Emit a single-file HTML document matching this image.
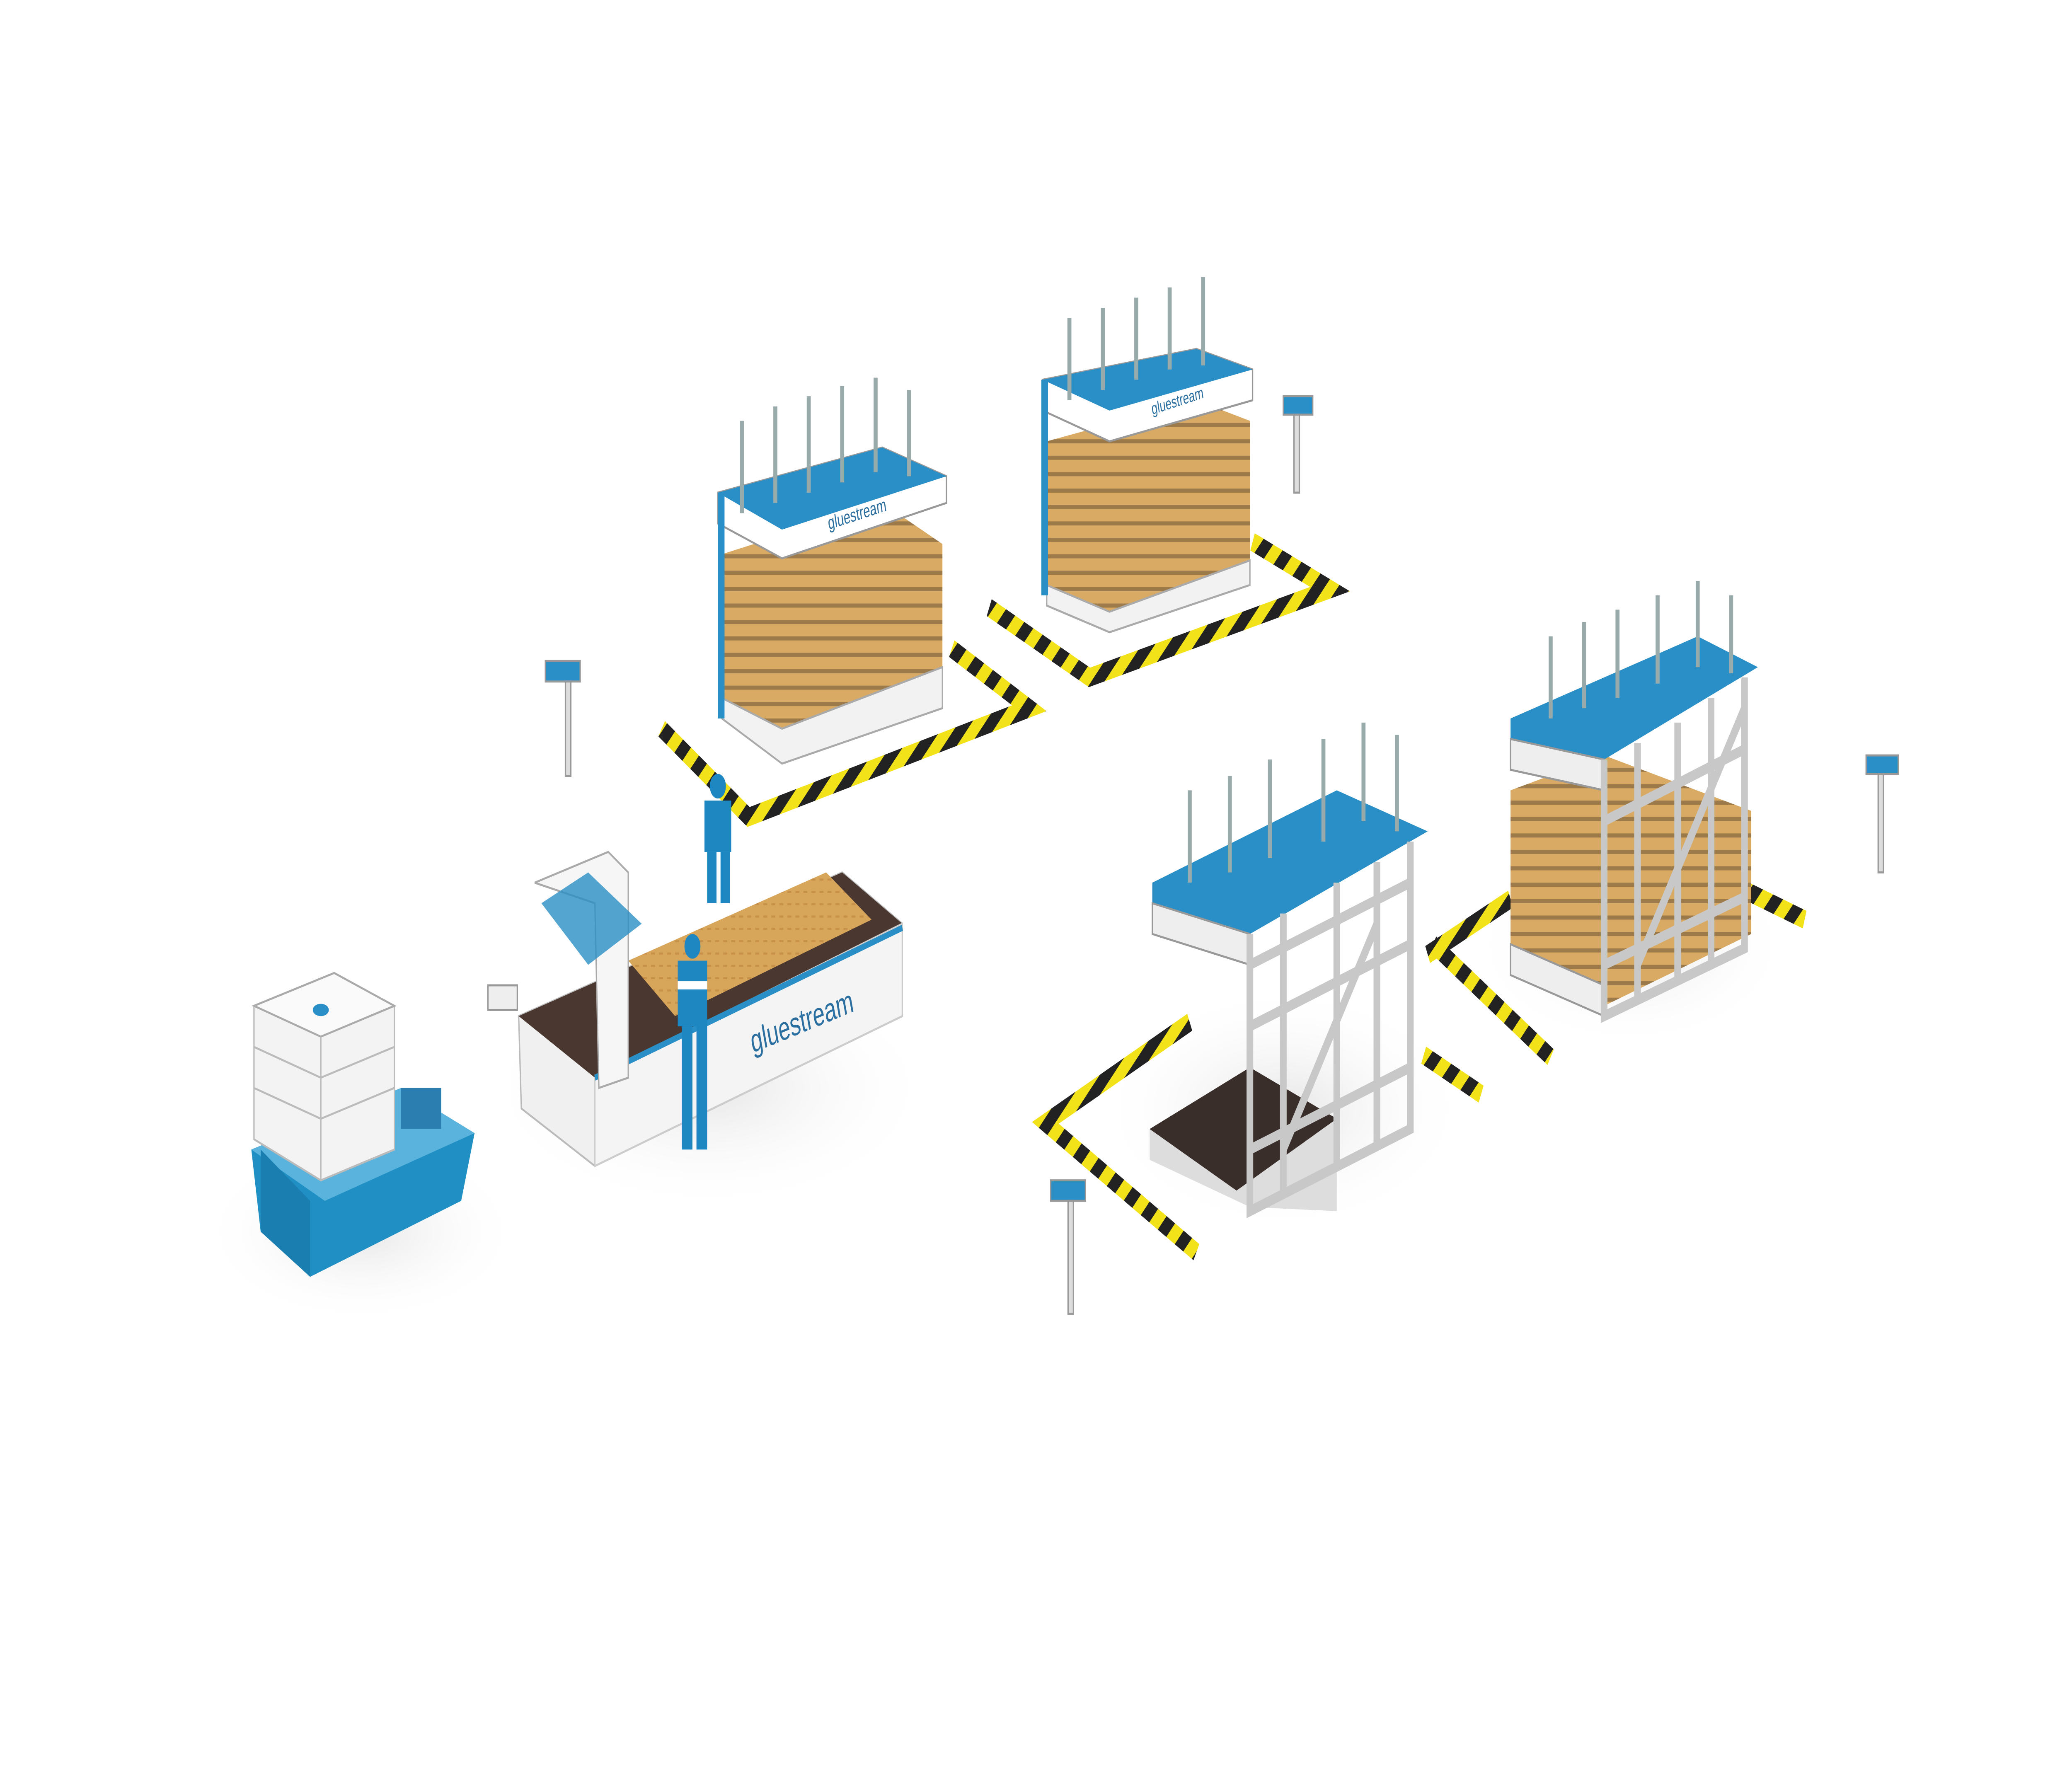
<!DOCTYPE html>
<html><head><meta charset="utf-8"><style>
html,body{margin:0;padding:0;background:#fff;width:100%;height:100%;overflow:hidden}
svg{display:block;position:fixed;left:0;top:0;width:100vw;height:100vh}
</style></head><body>
<svg viewBox="0 0 1550 872" preserveAspectRatio="none" xmlns="http://www.w3.org/2000/svg">
<defs>
<pattern id="hz" width="14" height="14" patternUnits="userSpaceOnUse" patternTransform="rotate(45)">
<rect width="7" height="14" fill="#222"/><rect x="7" width="7" height="14" fill="#f2e21a"/></pattern>
<pattern id="osb" width="6" height="6" patternUnits="userSpaceOnUse"><rect width="6" height="6" fill="#d8a65a"/><rect x="1" y="2" width="3" height="1" fill="#c8914a"/></pattern>
<pattern id="stack" width="10" height="8" patternUnits="userSpaceOnUse"><rect width="10" height="8" fill="#d9aa63"/><rect y="6" width="10" height="2" fill="#9c7a4a"/></pattern>
<radialGradient id="sh"><stop offset="0" stop-color="#e6e6e6"/><stop offset="1" stop-color="#fff" stop-opacity="0"/></radialGradient>
</defs>
<rect width="1550" height="872" fill="#fff"/>
<ellipse cx="270" cy="600" rx="120" ry="45" fill="url(#sh)"/>
<ellipse cx="530" cy="530" rx="170" ry="60" fill="url(#sh)"/>
<ellipse cx="960" cy="540" rx="140" ry="60" fill="url(#sh)"/>
<ellipse cx="1220" cy="460" rx="120" ry="50" fill="url(#sh)"/>

<g fill="none" stroke="url(#hz)" stroke-width="9">
<polyline points="495,355 560,398 770,345 712,316"/>
<polyline points="740,296 815,330 995,287 937,264"/>
<polyline points="1068,465 1130,438"/>
<polyline points="1072,460 1160,515"/>
<polyline points="1300,432 1350,448"/>
<polyline points="890,498 782,547 895,610"/>
<polyline points="1065,514 1108,533"/>
</g>

<polygon points="188,560 300,530 355,552 345,585 232,622 195,600" fill="#1f8fc4"/>
<polygon points="188,560 300,530 355,552 243,585" fill="#5ab3dc"/>
<polygon points="195,560 232,585 232,622 195,600" fill="#1a7fb0"/>
<polygon points="190,490 250,474 295,490 295,560 240,575 190,555" fill="#f3f3f3" stroke="#bbb" stroke-width="1"/>
<polygon points="190,490 250,474 295,490 240,505" fill="#fafafa" stroke="#aaa"/>
<g stroke="#bbb" stroke-width="1"><line x1="240" y1="505" x2="240" y2="575"/><line x1="190" y1="510" x2="240" y2="525"/><line x1="190" y1="530" x2="240" y2="545"/><line x1="240" y1="525" x2="295" y2="510"/><line x1="240" y1="545" x2="295" y2="530"/></g>
<ellipse cx="240" cy="492" rx="6" ry="3" fill="#2a8fc6"/>
<rect x="300" y="530" width="30" height="20" fill="#2a7fb0"/>

<polygon points="388,495 630,425 675,450 675,495 445,568 390,540" fill="#f0f0f0" stroke="#bbb"/>
<polygon points="388,495 630,425 675,450 445,525" fill="#4a3830"/>
<polygon points="445,525 675,450 675,495 445,568" fill="#f4f4f4" stroke="#ccc"/>
<line x1="445" y1="525" x2="675" y2="452" stroke="#2a8fc6" stroke-width="3"/>
<polygon points="470,468 618,425 652,448 505,495" fill="url(#osb)"/>
<text x="563" y="513" font-family="Liberation Sans,sans-serif" font-size="16" fill="#2a6fa0" transform="rotate(-15 563 513)">gluestream</text>
<polygon points="400,430 455,415 470,425 470,525 448,530 445,440" fill="#f6f6f6" stroke="#aaa"/>
<polygon points="405,440 440,470 480,450 440,425" fill="#2a8fc6" opacity=".8"/>
<rect x="365" y="480" width="22" height="12" fill="#eee" stroke="#999"/>
<g fill="#1e86c0">
<circle cx="537" cy="383" r="6"/><rect x="527" y="390" width="20" height="25"/><rect x="529" y="415" width="7" height="25"/><rect x="539" y="415" width="7" height="25"/>
<circle cx="518" cy="461" r="6"/><rect x="507" y="468" width="22" height="32"/><rect x="510" y="500" width="8" height="60"/><rect x="521" y="500" width="8" height="60"/>
</g>
<rect x="507" y="478" width="22" height="4" fill="#fff"/>

<g fill="#ddd" stroke="#999" stroke-width="1">
<rect x="408" y="322" width="26" height="10" fill="#2a8fc6"/><rect x="423" y="332" width="4" height="46"/>
<rect x="960" y="193" width="22" height="9" fill="#2a8fc6"/><rect x="968" y="202" width="4" height="38"/>
<rect x="1396" y="368" width="24" height="9" fill="#2a8fc6"/><rect x="1405" y="377" width="4" height="48"/>
<rect x="786" y="575" width="26" height="10" fill="#2a8fc6"/><rect x="799" y="585" width="4" height="55"/>
</g>

<polygon points="540,270 660,245 705,265 705,340 585,370 540,345" fill="url(#stack)"/>
<polygon points="540,340 585,355 705,325 705,345 585,372 540,350" fill="#f2f2f2" stroke="#aaa"/>
<polygon points="537,240 660,218 708,232 708,245 585,272 537,255" fill="#fff" stroke="#999"/>
<polygon points="537,240 660,218 708,232 585,258" fill="#2a8fc6"/>
<rect x="537" y="240" width="5" height="110" fill="#2a8fc6"/>
<g stroke="#9aa" stroke-width="3"><line x1="555" y1="205" x2="555" y2="250"/><line x1="580" y1="198" x2="580" y2="245"/><line x1="605" y1="193" x2="605" y2="240"/><line x1="630" y1="188" x2="630" y2="235"/><line x1="655" y1="184" x2="655" y2="230"/><line x1="680" y1="190" x2="680" y2="232"/></g>
<text x="620" y="258" font-family="Liberation Sans,sans-serif" font-size="9" fill="#2a6fa0" transform="rotate(-12 620 258)">gluestream</text>

<polygon points="783,215 895,195 935,205 935,280 830,305 783,290" fill="url(#stack)"/>
<polygon points="783,285 830,298 935,273 935,285 830,308 783,295" fill="#f2f2f2" stroke="#aaa"/>
<polygon points="780,185 895,170 937,180 937,195 830,215 780,200" fill="#fff" stroke="#999"/>
<polygon points="780,185 895,170 937,180 830,200" fill="#2a8fc6"/>
<rect x="779" y="185" width="5" height="105" fill="#2a8fc6"/>
<g stroke="#9aa" stroke-width="3"><line x1="800" y1="155" x2="800" y2="195"/><line x1="825" y1="150" x2="825" y2="190"/><line x1="850" y1="145" x2="850" y2="185"/><line x1="875" y1="140" x2="875" y2="180"/><line x1="900" y1="135" x2="900" y2="178"/></g>
<text x="862" y="202" font-family="Liberation Sans,sans-serif" font-size="8" fill="#2a6fa0" transform="rotate(-12 862 202)">gluestream</text>

<polygon points="860,550 935,520 1000,545 1000,590 935,588 860,565" fill="#ddd"/>
<polygon points="860,550 935,520 1000,545 925,580" fill="#3a2e2a"/>
<polygon points="862,430 1000,385 1068,405 935,455 862,440" fill="#2a8fc6"/>
<polygon points="862,440 935,455 935,470 862,455" fill="#eee" stroke="#999"/>
<g fill="none" stroke="#c8c8c8" stroke-width="5">
<polyline points="935,455 935,590 1055,550 1055,410"/>
<line x1="960" y1="445" x2="960" y2="582"/><line x1="1000" y1="430" x2="1000" y2="570"/><line x1="1030" y1="420" x2="1030" y2="560"/>
<line x1="935" y1="470" x2="1055" y2="430"/><line x1="935" y1="500" x2="1055" y2="460"/><line x1="935" y1="560" x2="1055" y2="520"/>
<line x1="960" y1="560" x2="1030" y2="450"/>
</g>
<g stroke="#9aa" stroke-width="3"><line x1="890" y1="385" x2="890" y2="430"/><line x1="920" y1="378" x2="920" y2="425"/><line x1="950" y1="370" x2="950" y2="418"/><line x1="990" y1="360" x2="990" y2="410"/><line x1="1020" y1="352" x2="1020" y2="400"/><line x1="1045" y1="358" x2="1045" y2="405"/></g>

<polygon points="1130,385 1200,368 1310,395 1310,455 1200,490 1130,465" fill="url(#stack)"/>
<polygon points="1130,350 1270,310 1315,325 1200,370 1130,360" fill="#2a8fc6"/>
<polygon points="1130,360 1200,370 1200,385 1130,375" fill="#eee" stroke="#999"/>
<polygon points="1130,460 1200,480 1200,495 1130,475" fill="#eee" stroke="#999"/>
<g fill="none" stroke="#c8c8c8" stroke-width="5">
<polyline points="1200,370 1200,495 1305,462 1305,330"/>
<line x1="1225" y1="362" x2="1225" y2="487"/><line x1="1255" y1="352" x2="1255" y2="478"/><line x1="1280" y1="340" x2="1280" y2="470"/>
<line x1="1200" y1="400" x2="1305" y2="365"/><line x1="1200" y1="470" x2="1305" y2="437"/>
<line x1="1225" y1="470" x2="1305" y2="345"/>
</g>
<g stroke="#9aa" stroke-width="3"><line x1="1160" y1="310" x2="1160" y2="350"/><line x1="1185" y1="303" x2="1185" y2="345"/><line x1="1210" y1="297" x2="1210" y2="340"/><line x1="1240" y1="290" x2="1240" y2="333"/><line x1="1270" y1="283" x2="1270" y2="325"/><line x1="1295" y1="290" x2="1295" y2="328"/></g>
</svg>
</body></html>
